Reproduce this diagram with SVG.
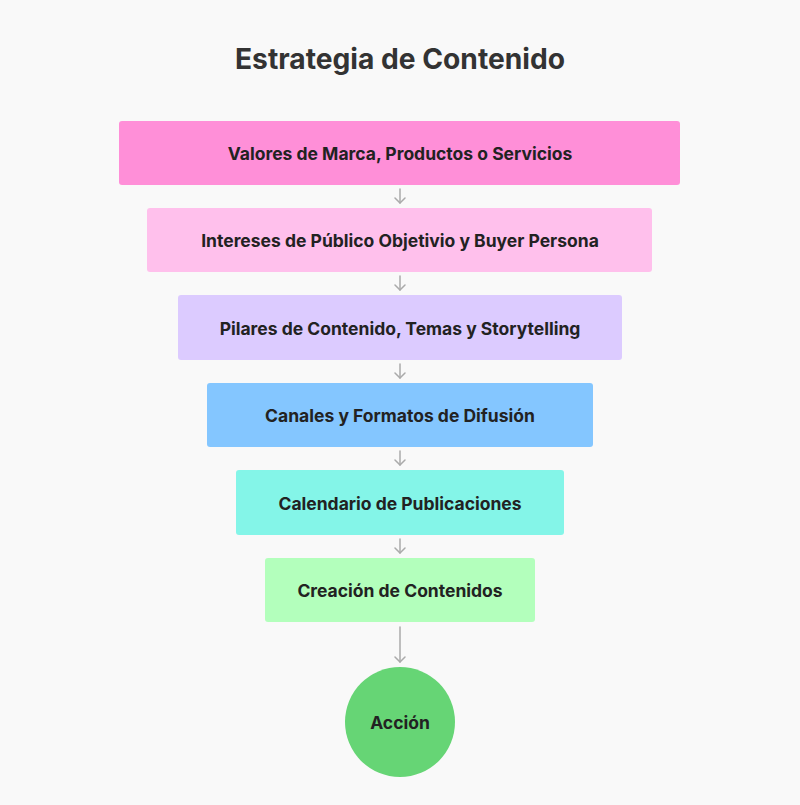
<svg xmlns="http://www.w3.org/2000/svg" width="800" height="805" viewBox="0 0 800 805">
<style>
.t{font-family:Inter,"Noto Sans","Liberation Sans",sans-serif;font-weight:700;font-size:17.5px;fill:#222;text-anchor:middle;dominant-baseline:central}
.title{font-family:Inter,"Noto Sans","Liberation Sans",sans-serif;font-weight:700;font-size:28.2px;fill:#333;text-anchor:middle}
.c{stroke:#aaa;stroke-width:1.5;fill:none;stroke-linecap:round;stroke-linejoin:round}
</style>
<defs>
<marker id="ah" viewBox="0 0 12 12" refX="10" refY="6" markerWidth="12" markerHeight="12" markerUnits="userSpaceOnUse" orient="auto">
<path d="M5,1 L10,6 L5,11" class="c"/>
</marker>
</defs>
<rect width="800" height="805" fill="#f9f9f9"/>
<text class="title" x="400" y="69">Estrategia de Contenido</text>
<g id="connectors">
<line class="c" x1="400" y1="189" x2="400" y2="203" marker-end="url(#ah)"/>
<line class="c" x1="400" y1="276" x2="400" y2="290" marker-end="url(#ah)"/>
<line class="c" x1="400" y1="364" x2="400" y2="378" marker-end="url(#ah)"/>
<line class="c" x1="400" y1="451" x2="400" y2="465" marker-end="url(#ah)"/>
<line class="c" x1="400" y1="539" x2="400" y2="553" marker-end="url(#ah)"/>
<line class="c" x1="400" y1="627" x2="400" y2="662" marker-end="url(#ah)"/>
</g>
<g id="n1"><rect x="119" y="121" width="561" height="64" rx="3" fill="#ff8fd8"/><text class="t" x="400" y="153">Valores de Marca, Productos o Servicios</text></g>
<g id="n2"><rect x="147" y="208" width="505" height="64" rx="3" fill="#ffc0ec"/><text class="t" x="400" y="240">Intereses de Público Objetivio y Buyer Persona</text></g>
<g id="n3"><rect x="178" y="295" width="444" height="65" rx="3" fill="#dccbff"/><text class="t" x="400" y="328">Pilares de Contenido, Temas y Storytelling</text></g>
<g id="n4"><rect x="207" y="383" width="386" height="64" rx="3" fill="#84c6ff"/><text class="t" x="400" y="415">Canales y Formatos de Difusión</text></g>
<g id="n5"><rect x="236" y="470" width="328" height="65" rx="3" fill="#84f5e8"/><text class="t" x="400" y="503">Calendario de Publicaciones</text></g>
<g id="n6"><rect x="265" y="558" width="270" height="64" rx="3" fill="#b3ffbc"/><text class="t" x="400" y="590">Creación de Contenidos</text></g>
<g id="n7"><circle cx="400" cy="722" r="55" fill="#66d575"/><text class="t" x="400" y="722">Acción</text></g>
</svg>
